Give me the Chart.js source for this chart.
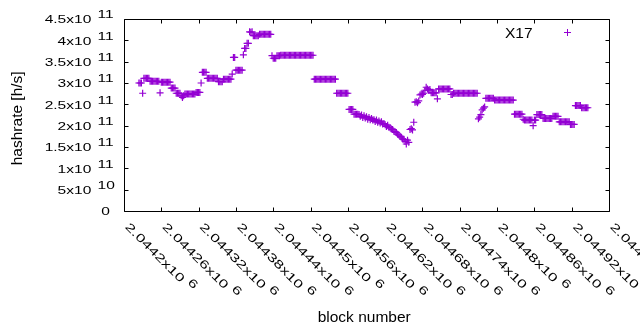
<!DOCTYPE html>
<html>
<head>
<meta charset="utf-8">
<script src="https://cdn.jsdelivr.net/npm/chart.js@4.4.0/dist/chart.umd.min.js"></script>
<style>
  body { margin: 0; background: #fff; }
  #wrap { width: 640px; height: 330px; }
</style>
</head>
<body>
<div id="wrap"><canvas id="hashChart"></canvas></div>
<script>
const seriesName = "X17";

// one sample every 2 blocks, starting at firstBlock
const firstBlock = 2044224;
const blockStep = 2;

// hashrate for each sample, in units of 10^9 h/s
const hashrateG = [
  300, 300, 300, 276, 311, 311, 311, 311, 311, 304, 304, 304, 304, 304, 304, 304, 304, 277,
  302, 302, 302, 302, 302, 302, 302, 302, 288, 288, 288, 288, 276, 276, 276, 276, 270, 266, 270,
  274, 274, 274, 274, 274, 274, 274, 274, 274, 278, 278, 278, 278, 300,
  325, 325, 325, 325, 311, 311, 311, 311, 311, 311, 311, 311, 311, 303, 303, 303, 303,
  309, 309, 309, 309, 309, 309, 309, 321, 360, 360, 330, 330, 330, 330, 330, 330, 366, 381, 381, 393, 393,
  420, 419, 420, 411, 411, 411, 411, 411, 414, 414, 414, 414, 414, 414, 414, 414, 414, 414,
  364, 358, 358, 358, 364, 364, 364,
  365, 365, 365, 365, 365, 365, 365, 365, 365, 365, 365, 365, 365, 365, 365, 365, 365, 365, 365, 365, 365, 365, 365, 365, 365, 365, 365,
  309, 309, 309, 309, 309, 309, 309, 309, 309, 309, 309, 309, 309, 309, 309, 309, 309, 309,
  276, 276, 276, 276, 276, 276, 276, 276, 276, 276,
  238, 238, 238, 238, 227, 227, 227, 227,
  226, 222, 225, 219, 223, 218, 221, 215, 219, 214, 217, 213,
  214, 210, 213, 208, 211, 206, 209, 204, 205,
  202, 198, 201, 196, 195, 192, 191, 187, 186,
  184, 180, 178, 175, 173, 169, 168,
  163, 157, 166, 161, 191, 193, 190, 208,
  255, 256, 254, 258, 272, 274, 273, 276, 283, 290, 286, 283, 285,
  277, 277, 277, 277, 277, 263, 286, 286, 286, 286, 286, 286, 286, 286, 286, 286, 273, 273,
  276, 276, 276, 276, 276, 276, 276, 276, 276, 276, 276, 276, 276, 276, 276, 276, 276, 276, 276, 276,
  216, 220, 226, 237, 241, 244, 264, 264, 264, 264, 264, 264, 264,
  260, 260, 260, 260, 260, 260, 260, 260, 260, 260, 260, 260, 260, 260, 260, 260,
  227, 227, 227, 227, 227, 227, 227, 215, 213, 213, 213, 213, 213, 213, 213, 200, 213, 213,
  226, 226, 226, 226, 226, 217, 217, 217, 217, 217, 217, 217, 217, 222, 222, 222, 222, 222,
  209, 209, 209, 209, 209, 209, 209, 209, 209, 203, 203, 203, 203,
  247, 247, 247, 247, 247, 242, 242, 242, 242, 242, 242
];

const xTicks = [2044200, 2044260, 2044320, 2044380, 2044440, 2044500, 2044560,
                2044620, 2044680, 2044740, 2044800, 2044860, 2044920, 2044980];
const xTickLabels = ["2.0442x10^6", "2.04426x10^6", "2.04432x10^6", "2.04438x10^6",
                     "2.04444x10^6", "2.0445x10^6", "2.04456x10^6", "2.04462x10^6",
                     "2.04468x10^6", "2.04474x10^6", "2.0448x10^6", "2.04486x10^6",
                     "2.04492x10^6", "2.04498x10^6"];
const yTicks = [0, 5e10, 1e11, 1.5e11, 2e11, 2.5e11, 3e11, 3.5e11, 4e11, 4.5e11];
const yTickLabels = ["0", "5x10^10", "1x10^11", "1.5x10^11", "2x10^11", "2.5x10^11",
                     "3x10^11", "3.5x10^11", "4x10^11", "4.5x10^11"];

const purple = "#9400d3";
const FONT = '"Liberation Sans", Arial, sans-serif';
const TICK_SIZE = 11.6;

const points = hashrateG.map((v, i) => ({ x: firstBlock + i * blockStep, y: v * 1e9 }));

// tick labels are drawn wide (stretched sideways)
function wideText(ctx, txt, x, y, align, k) {
  ctx.save();
  ctx.translate(x, y);
  ctx.scale(k, 1);
  ctx.font = TICK_SIZE + "px " + FONT;
  ctx.textAlign = align;
  ctx.textBaseline = "alphabetic";
  ctx.fillText(txt, 0, 0);
  ctx.restore();
}

const gnuplotFrame = {
  id: "gnuplotFrame",
  afterDatasetsDraw(chart) {
    const ctx = chart.ctx;
    const a = chart.chartArea;
    const xs = chart.scales.x, ys = chart.scales.y;
    ctx.save();
    ctx.strokeStyle = "#000";
    ctx.fillStyle = "#000";
    ctx.lineWidth = 1;

    // border and inner ticks
    const L = Math.round(a.left) + 0.5, R = Math.round(a.right) + 0.5;
    const T = Math.round(a.top) + 0.5, B = Math.round(a.bottom) + 0.5;
    ctx.beginPath();
    ctx.rect(L, T, R - L, B - T);
    yTicks.forEach(v => {
      const y = Math.round(ys.getPixelForValue(v)) + 0.5;
      ctx.moveTo(L, y); ctx.lineTo(L + 4, y);
      ctx.moveTo(R, y); ctx.lineTo(R - 4, y);
    });
    xTicks.forEach(v => {
      const x = Math.round(xs.getPixelForValue(v)) + 0.5;
      ctx.moveTo(x, B); ctx.lineTo(x, B - 4);
      ctx.moveTo(x, T); ctx.lineTo(x, T + 4);
    });
    ctx.stroke();

    // y tick labels
    yTickLabels.forEach((lab, i) => {
      const y = ys.getPixelForValue(yTicks[i]);
      const [base, exp] = lab.split("^");
      if (exp) {
        wideText(ctx, base, 91.3, y + 4.2, "right", 1.34);
        wideText(ctx, exp, 97.6, y - 0.8, "left", 1.34);
      } else {
        wideText(ctx, base, 109.9, y + 4.2, "right", 1.34);
      }
    });

    // x tick labels, rotated
    const kx = 1.45;
    xTickLabels.forEach((lab, i) => {
      const x = xs.getPixelForValue(xTicks[i]);
      const [base, exp] = lab.split("^");
      ctx.save();
      ctx.translate(x + 0.5, 227.5);
      ctx.rotate(Math.PI / 4);
      ctx.font = TICK_SIZE + "px " + FONT;
      const w = ctx.measureText(base).width * kx;
      wideText(ctx, base, 0, 0, "left", kx);
      wideText(ctx, exp, w + 5, -5, "left", kx);
      ctx.restore();
    });

    // axis titles
    ctx.font = "15.5px " + FONT;
    ctx.textBaseline = "alphabetic";
    ctx.textAlign = "center";
    ctx.fillText("block number", 364.2, 321.5);
    ctx.save();
    ctx.translate(21.5, 118.3);
    ctx.rotate(-Math.PI / 2);
    ctx.fillText("hashrate [h/s]", 0, 0);
    ctx.restore();

    // key
    ctx.textAlign = "right";
    ctx.fillText(seriesName, 532.5, 37.5);
    ctx.strokeStyle = purple;
    ctx.beginPath();
    ctx.moveTo(564, 32.5); ctx.lineTo(571, 32.5);
    ctx.moveTo(567.5, 29); ctx.lineTo(567.5, 36);
    ctx.stroke();
    ctx.restore();
  }
};

new Chart(document.getElementById("hashChart"), {
  type: "scatter",
  data: {
    datasets: [{
      label: seriesName,
      data: points,
      pointStyle: "cross",
      pointRadius: 3.5,
      pointHoverRadius: 3.5,
      borderWidth: 1.2,
      borderColor: purple,
      backgroundColor: purple,
      showLine: false
    }]
  },
  options: {
    responsive: true,
    maintainAspectRatio: false,
    animation: false,
    events: [],
    layout: { padding: { top: 19, right: 31, left: 0, bottom: 0 } },
    plugins: { legend: { display: false }, tooltip: { enabled: false } },
    scales: {
      x: {
        type: "linear",
        min: xTicks[0],
        max: xTicks[xTicks.length - 1],
        afterFit: s => { s.height = 119; },
        ticks: { display: false },
        grid: { display: false },
        border: { display: false }
      },
      y: {
        min: yTicks[0],
        max: yTicks[yTicks.length - 1],
        afterFit: s => { s.width = 124; },
        ticks: { display: false },
        grid: { display: false },
        border: { display: false }
      }
    }
  },
  plugins: [gnuplotFrame]
});
</script>
</body>
</html>
